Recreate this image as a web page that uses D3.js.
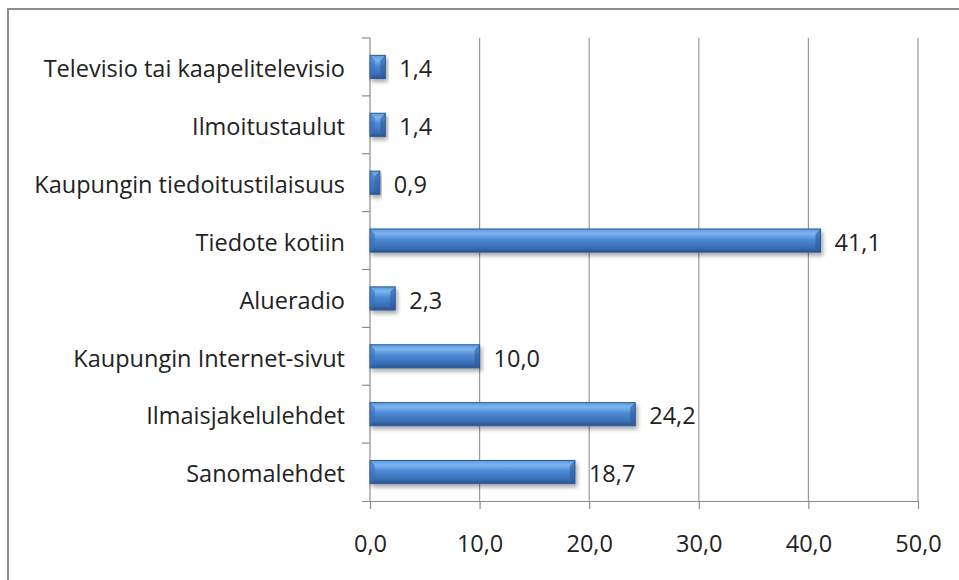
<!DOCTYPE html>
<html><head><meta charset="utf-8">
<script src="https://cdn.jsdelivr.net/npm/d3@7"></script>
<style>html,body{margin:0;padding:0;background:#fff;overflow:hidden}</style>
</head><body>
<svg id="c" width="959" height="580"></svg>
<script>
const categories = ["Televisio tai kaapelitelevisio","Ilmoitustaulut","Kaupungin tiedoitustilaisuus","Tiedote kotiin","Alueradio","Kaupungin Internet-sivut","Ilmaisjakelulehdet","Sanomalehdet"];
const values = [1.4, 1.4, 0.9, 41.1, 2.3, 10.0, 24.2, 18.7];
const xTicks = [0, 10, 20, 30, 40, 50];

const svg = d3.select("#c");
const font = "'Open Sans', sans-serif";
const fs = 23.5;
const fmt = v => d3.format(".1f")(v).replace(".", ",");

// frame
svg.append("rect").attr("x", 8).attr("y", 9).attr("width", 1000).attr("height", 620)
  .attr("fill", "#fff").attr("stroke", "#8c8c8c").attr("stroke-width", 2);

const x = d3.scaleLinear().domain([0, 50]).range([370, 918]);
const y = d3.scaleBand().domain(categories).range([38, 501]).paddingInner(0.6).paddingOuter(0.3);
const band = d3.scaleBand().domain(categories).range([38, 501]);

const defs = svg.append("defs");
const g = defs.append("linearGradient").attr("id", "barg").attr("x1", 0).attr("y1", 0).attr("x2", 0).attr("y2", 1);
[[0, "#5e9be0"], [0.2, "#7db5f0"], [0.45, "#4d8ad6"], [0.8, "#3a6fb5"], [1, "#2a5391"]]
  .forEach(([o, c]) => g.append("stop").attr("offset", o).attr("stop-color", c));
const f = defs.append("filter").attr("id", "sh").attr("x", "-10%").attr("y", "-50%").attr("width", "130%").attr("height", "250%");
f.append("feDropShadow").attr("dx", 2).attr("dy", 3).attr("stdDeviation", 2).attr("flood-color", "#000").attr("flood-opacity", 0.35);

// gridlines
svg.append("g").selectAll("line").data(xTicks.filter(d => d > 0)).join("line")
  .attr("x1", d => x(d)).attr("x2", d => x(d)).attr("y1", 38).attr("y2", 501)
  .attr("stroke", "#9a9a9a").attr("stroke-width", 1.2);

// x axis
const xa = svg.append("g").attr("transform", "translate(0,501)")
  .call(d3.axisBottom(x).tickValues(xTicks).tickSize(8).tickPadding(26).tickFormat(fmt));
xa.select(".domain").attr("stroke", "#8c8c8c").attr("stroke-width", 1.2).attr("d", "M362,0.5H918");
xa.selectAll(".tick line").attr("stroke", "#8c8c8c").attr("stroke-width", 1.2);
xa.selectAll("text").attr("font-family", font).attr("font-size", fs).attr("fill", "#222");

// y axis
const ya = svg.append("g").attr("transform", "translate(370,0)");
ya.append("line").attr("x1", 0).attr("x2", 0).attr("y1", 38).attr("y2", 501).attr("stroke", "#8c8c8c").attr("stroke-width", 1.2);
ya.selectAll("line.t").data(categories).join("line").attr("class", "t")
  .attr("x1", -8).attr("x2", 0).attr("y1", d => band(d)).attr("y2", d => band(d))
  .attr("stroke", "#8c8c8c").attr("stroke-width", 1.2);
ya.selectAll("text").data(categories).join("text")
  .attr("x", -25).attr("y", d => band(d) + band.bandwidth() / 2 + 2).attr("dy", "0.35em")
  .attr("text-anchor", "end").attr("font-family", font).attr("font-size", fs).attr("fill", "#222")
  .text(d => d);

// bars
const bars = svg.append("g");
categories.forEach((c, i) => {
  const x0 = x(0), x1 = x(values[i]), y0 = y(c), h = y.bandwidth();
  bars.append("rect").attr("x", x0).attr("y", y0).attr("width", x1 - x0).attr("height", h)
    .attr("fill", "url(#barg)").attr("stroke", "#2c5a98").attr("stroke-width", 1).attr("filter", "url(#sh)");
  const b = Math.min(5, (x1 - x0) / 2);
  bars.append("path").attr("d", `M${x0},${y0}L${x0 + b},${y0 + b}L${x0 + b},${y0 + h - b}L${x0},${y0 + h}Z`)
    .attr("fill", "#3a70b8").attr("opacity", 0.6);
  bars.append("path").attr("d", `M${x1},${y0}L${x1 - b},${y0 + b}L${x1 - b},${y0 + h - b}L${x1},${y0 + h}Z`)
    .attr("fill", "#2d5c9c").attr("opacity", 0.6);
  bars.append("text").attr("x", x1 + 14).attr("y", y0 + h / 2 + 2).attr("dy", "0.35em")
    .attr("font-family", font).attr("font-size", fs).attr("fill", "#222").text(fmt(values[i]));
});
</script>
</body></html>
